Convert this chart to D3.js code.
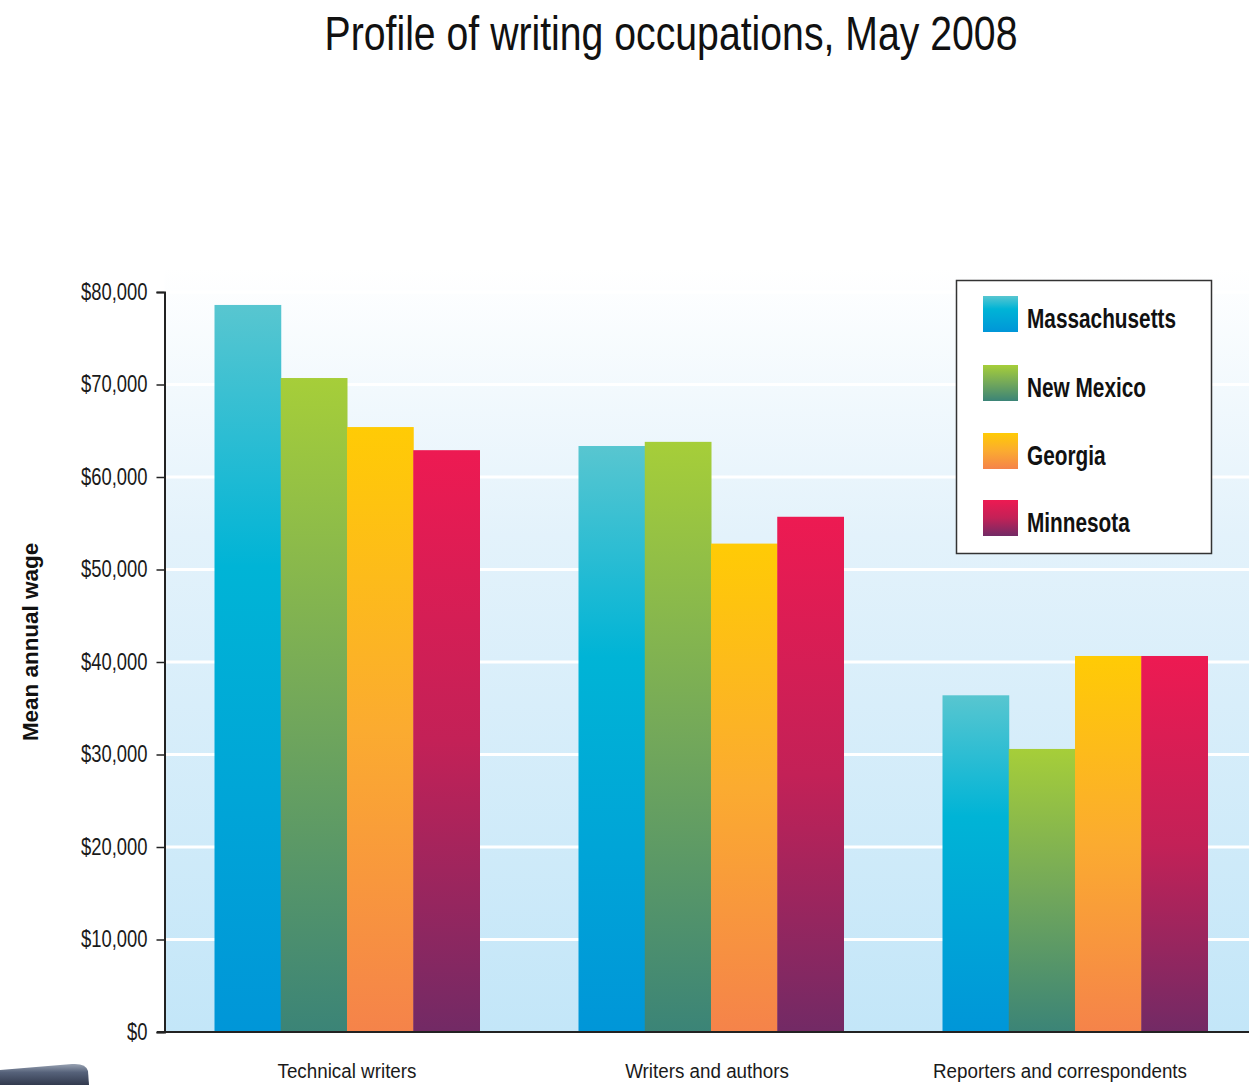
<!DOCTYPE html>
<html>
<head>
<meta charset="utf-8">
<script src="https://cdn.jsdelivr.net/npm/d3@7"></script>
<style>
  html, body { margin: 0; padding: 0; background: #fff; }
  svg { display: block; }
  text { font-family: "Liberation Sans", Arial, sans-serif; }
</style>
</head>
<body>
<svg id="chart" width="1249" height="1085"></svg>
<script>
const categories = ["Technical writers", "Writers and authors", "Reporters and correspondents"];
const states = ["Massachusetts", "New Mexico", "Georgia", "Minnesota"];
const massachusetts = [78600, 63350, 36400];
const newMexico = [70700, 63800, 30600];
const georgia = [65400, 52800, 40650];
const minnesota = [62900, 55700, 40650];
const seriesValues = [massachusetts, newMexico, georgia, minnesota];
const yTicks = [0, 10000, 20000, 30000, 40000, 50000, 60000, 70000, 80000];
const title = "Profile of writing occupations, May 2008";
const yTitle = "Mean annual wage";

const gradients = [
  [[0, "#58c6d0"], [0.36, "#00b4d6"], [1, "#0096d8"]],
  [[0, "#a6ce39"], [0.5, "#73a85a"], [1, "#3b8477"]],
  [[0, "#ffcb05"], [0.5, "#fbab30"], [1, "#f5834a"]],
  [[0, "#ed1a52"], [0.5, "#c32157"], [1, "#722a65"]]
];

// horizontal nudges of the category labels (as placed in the reference)
const labelNudge = [0, -4, -15];

// horizontally condense text (reference uses a narrow typeface)
function condense(sel, ratio) {
  sel.each(function () {
    const w = this.getComputedTextLength();
    d3.select(this).attr("textLength", w * ratio).attr("lengthAdjust", "spacingAndGlyphs");
  });
}

const svg = d3.select("#chart");
const defs = svg.append("defs");

gradients.forEach((stops, i) => {
  const g = defs.append("linearGradient").attr("id", "grad" + i)
    .attr("x1", 0).attr("y1", 0).attr("x2", 0).attr("y2", 1);
  stops.forEach(s => g.append("stop").attr("offset", s[0]).attr("stop-color", s[1]));
});
const bg = defs.append("linearGradient").attr("id", "bggrad")
  .attr("x1", 0).attr("y1", 0).attr("x2", 0).attr("y2", 1);
bg.append("stop").attr("offset", 0).attr("stop-color", "#ffffff");
bg.append("stop").attr("offset", 0.35).attr("stop-color", "#e3f2fb");
bg.append("stop").attr("offset", 1).attr("stop-color", "#c3e6f8");

const pen = defs.append("linearGradient").attr("id", "pengrad")
  .attr("x1", 0).attr("y1", 0).attr("x2", 0).attr("y2", 1);
pen.append("stop").attr("offset", 0).attr("stop-color", "#9aa4b4");
pen.append("stop").attr("offset", 0.4).attr("stop-color", "#56627a");
pen.append("stop").attr("offset", 1).attr("stop-color", "#323a4e");

const plotLeft = 164.5, plotRight = 1249, plotTop = 268, plotBottom = 1032;

const y = d3.scaleLinear().domain([0, 80000]).range([1032, 292]);
const x0 = d3.scaleBand().domain(categories).range([165, 1257])
  .paddingInner(0.272).paddingOuter(0.136);
const x1 = d3.scaleBand().domain(states).range([0, x0.bandwidth()]).padding(0);

// background
svg.append("rect").attr("x", plotLeft).attr("y", plotTop)
  .attr("width", plotRight - plotLeft).attr("height", plotBottom - plotTop)
  .attr("fill", "url(#bggrad)");

// gridlines
svg.append("g").selectAll("line").data(yTicks.filter(d => d > 0)).join("line")
  .attr("x1", plotLeft).attr("x2", plotRight)
  .attr("y1", d => y(d)).attr("y2", d => y(d))
  .attr("stroke", "#ffffff").attr("stroke-width", 3);

// bars
const groups = svg.append("g").selectAll("g").data(categories).join("g")
  .attr("transform", d => `translate(${x0(d)},0)`);
groups.selectAll("rect")
  .data((c, ci) => states.map((s, si) => ({ s, si, v: seriesValues[si][ci] })))
  .join("rect")
  .attr("x", d => x1(d.s))
  .attr("width", x1.bandwidth() + 0.5)
  .attr("y", d => y(d.v))
  .attr("height", d => y(0) - y(d.v))
  .attr("fill", d => `url(#grad${d.si})`);

// y axis
const yAxis = d3.axisLeft(y).tickValues(yTicks)
  .tickFormat(d => "$" + d3.format(",")(d)).tickSize(8).tickPadding(9);
const ya = svg.append("g").attr("transform", `translate(${plotLeft},0)`).call(yAxis);
ya.attr("font-family", null);
ya.select(".domain").attr("stroke", "#222").attr("stroke-width", 2);
ya.selectAll(".tick line").attr("stroke", "#222").attr("stroke-width", 1.5);
ya.selectAll(".tick text").attr("font-size", 23).attr("fill", "#1a1a1a").call(condense, 0.8);

// x axis baseline
svg.append("line").attr("x1", 157).attr("x2", plotRight)
  .attr("y1", y(0)).attr("y2", y(0)).attr("stroke", "#222").attr("stroke-width", 2);

// category labels
svg.append("g").selectAll("text").data(categories).join("text")
  .attr("x", (d, i) => x0(d) + x0.bandwidth() / 2 + labelNudge[i])
  .attr("y", 1078)
  .attr("text-anchor", "middle")
  .attr("font-size", 20)
  .attr("fill", "#1a1a1a")
  .text(d => d)
  .call(condense, 0.94);

// title
svg.append("text").attr("x", 671).attr("y", 50)
  .attr("text-anchor", "middle").attr("font-size", 49).attr("fill", "#111")
  .text(title)
  .call(condense, 0.8);

// y title
svg.append("text")
  .attr("transform", "translate(38,642) rotate(-90)")
  .attr("text-anchor", "middle").attr("font-size", 22).attr("font-weight", "bold")
  .attr("fill", "#111").text(yTitle)
  .call(condense, 1.02);

// legend
const legend = svg.append("g");
legend.append("rect").attr("x", 956.5).attr("y", 280.5).attr("width", 255).attr("height", 273)
  .attr("fill", "#ffffff").attr("stroke", "#333").attr("stroke-width", 1.5);
const legY = [296, 365, 433, 500];
const li = legend.selectAll("g.item").data(states).join("g").attr("class", "item")
  .attr("transform", (d, i) => `translate(983,${legY[i]})`);
li.append("rect").attr("width", 35).attr("height", 36)
  .attr("fill", (d, i) => `url(#grad${i})`);
li.append("text").attr("x", 44).attr("y", 32)
  .attr("font-size", 27).attr("font-weight", "bold").attr("fill", "#111")
  .text(d => d)
  .call(condense, 0.77);

// decorative pen in the lower-left corner
svg.append("path")
  .attr("d", "M0,1070 L72,1064 Q86,1063 88,1071 L89,1085 L0,1085 Z")
  .attr("fill", "url(#pengrad)");
</script>
</body>
</html>
